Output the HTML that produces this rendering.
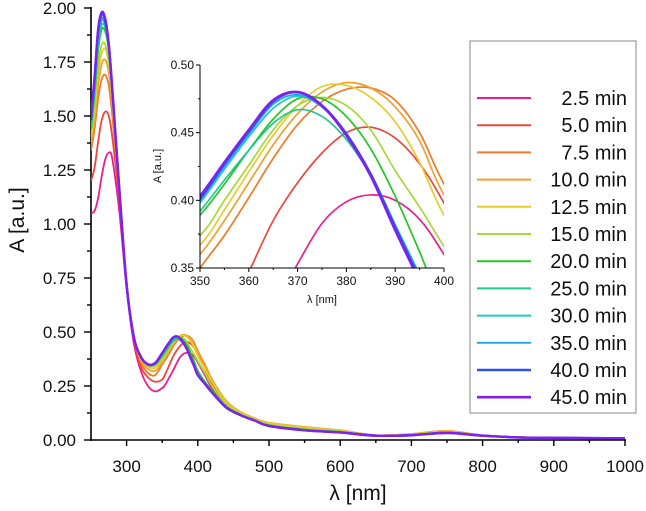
<!DOCTYPE html>
<html><head><meta charset="utf-8"><style>
html,body{margin:0;padding:0;background:#fff;overflow:hidden;width:646px;height:511px;}
svg{display:block;font-family:"Liberation Sans",sans-serif;}
</style></head><body>
<svg id="chart" width="646" height="511" viewBox="0 0 646 511" xmlns="http://www.w3.org/2000/svg">
<defs>
<clipPath id="mainClip"><rect x="91" y="0" width="535" height="441"/></clipPath>
<clipPath id="insetClip"><rect x="200" y="65" width="244" height="203"/></clipPath>
</defs>
<g id="main-axes"></g>
<g id="main-series" clip-path="url(#mainClip)"></g>
<g id="inset-series" clip-path="url(#insetClip)"></g>
<g id="inset-axes"></g>
<g id="legend"></g>
</svg>
<script>
const wavelengths = [250,255,260,265,270,275,280,290,300,310,320,330,340,350,355,360,365,370,375,380,385,390,395,400,410,420,440,460,480,500,550,600,650,700,750,800,850,900,1000];
const seriesLabels = ["2.5 min","5.0 min","7.5 min","10.0 min","12.5 min","15.0 min","20.0 min","25.0 min","30.0 min","35.0 min","40.0 min","45.0 min"];
const seriesColors = ["#ee1c8c","#f0443c","#f07a28","#f0a030","#e6cc2c","#a8d838","#22c822","#20c890","#20c8c8","#20a8f0","#3050f0","#8020f0"];
const s2_5 = [1.05,1.06,1.12,1.22,1.30,1.33,1.30,1.05,0.70,0.45,0.32,0.25,0.225,0.24,0.26,0.29,0.32,0.353,0.383,0.399,0.404,0.400,0.386,0.360,0.30,0.24,0.16,0.12,0.095,0.075,0.055,0.04,0.02,0.025,0.035,0.02,0.012,0.01,0.008];
const s5_0 = [1.20,1.26,1.38,1.48,1.52,1.50,1.40,1.10,0.72,0.47,0.34,0.29,0.27,0.28,0.31,0.347,0.385,0.413,0.435,0.450,0.454,0.446,0.427,0.398,0.33,0.26,0.17,0.125,0.098,0.078,0.058,0.043,0.022,0.027,0.038,0.022,0.013,0.011,0.009];
const s7_5 = [1.34,1.44,1.58,1.67,1.69,1.64,1.50,1.12,0.72,0.48,0.36,0.31,0.30,0.350,0.374,0.402,0.431,0.456,0.473,0.482,0.483,0.474,0.450,0.412,0.35,0.28,0.18,0.13,0.10,0.08,0.06,0.045,0.022,0.028,0.042,0.022,0.013,0.011,0.009];
const s10_0 = [1.37,1.48,1.64,1.74,1.76,1.70,1.55,1.14,0.72,0.48,0.37,0.33,0.32,0.360,0.385,0.413,0.441,0.464,0.480,0.487,0.483,0.469,0.444,0.404,0.35,0.28,0.18,0.13,0.10,0.08,0.06,0.045,0.022,0.028,0.042,0.022,0.013,0.011,0.009];
const s12_5 = [1.40,1.52,1.69,1.79,1.81,1.74,1.58,1.15,0.72,0.48,0.38,0.34,0.335,0.367,0.393,0.421,0.448,0.470,0.484,0.485,0.476,0.458,0.428,0.389,0.33,0.27,0.175,0.128,0.098,0.078,0.058,0.043,0.021,0.027,0.04,0.021,0.013,0.011,0.009];
const s15_0 = [1.42,1.55,1.73,1.83,1.83,1.75,1.58,1.15,0.72,0.48,0.38,0.345,0.345,0.374,0.400,0.426,0.452,0.470,0.476,0.470,0.452,0.422,0.395,0.366,0.31,0.25,0.165,0.122,0.094,0.072,0.052,0.04,0.021,0.025,0.037,0.021,0.012,0.01,0.008];
const s20_0 = [1.44,1.60,1.80,1.90,1.89,1.80,1.60,1.15,0.72,0.48,0.385,0.35,0.35,0.389,0.412,0.437,0.460,0.475,0.475,0.462,0.438,0.403,0.362,0.320,0.27,0.23,0.155,0.118,0.091,0.068,0.048,0.037,0.02,0.023,0.035,0.02,0.012,0.01,0.008];
const s25_0 = [1.45,1.62,1.83,1.92,1.91,1.81,1.61,1.15,0.72,0.48,0.385,0.35,0.35,0.392,0.415,0.437,0.457,0.467,0.462,0.445,0.418,0.382,0.345,0.305,0.26,0.22,0.15,0.115,0.09,0.066,0.046,0.036,0.02,0.022,0.033,0.02,0.012,0.01,0.008];
const s30_0 = [1.46,1.63,1.85,1.94,1.92,1.82,1.61,1.15,0.72,0.48,0.385,0.35,0.352,0.398,0.423,0.447,0.468,0.477,0.469,0.449,0.420,0.382,0.344,0.304,0.26,0.22,0.15,0.115,0.09,0.066,0.046,0.036,0.02,0.022,0.033,0.02,0.012,0.01,0.008];
const s35_0 = [1.47,1.65,1.87,1.95,1.93,1.82,1.61,1.15,0.72,0.48,0.385,0.35,0.353,0.400,0.425,0.449,0.471,0.478,0.469,0.449,0.419,0.381,0.343,0.303,0.26,0.22,0.15,0.115,0.09,0.065,0.045,0.035,0.02,0.022,0.033,0.02,0.012,0.01,0.008];
const s40_0 = [1.48,1.67,1.89,1.97,1.94,1.83,1.62,1.15,0.72,0.48,0.385,0.35,0.355,0.401,0.427,0.451,0.473,0.480,0.470,0.449,0.419,0.380,0.342,0.302,0.26,0.22,0.15,0.115,0.09,0.065,0.045,0.035,0.02,0.022,0.033,0.02,0.012,0.01,0.008];
const s45_0 = [1.50,1.68,1.90,1.98,1.95,1.83,1.62,1.15,0.72,0.48,0.385,0.35,0.356,0.403,0.428,0.452,0.474,0.480,0.470,0.448,0.418,0.378,0.340,0.300,0.26,0.22,0.15,0.115,0.09,0.065,0.045,0.035,0.02,0.022,0.033,0.02,0.012,0.01,0.008];
const allSeries = [s2_5,s5_0,s7_5,s10_0,s12_5,s15_0,s20_0,s25_0,s30_0,s35_0,s40_0,s45_0];
const mainXTicks = [300,400,500,600,700,800,900,1000];
const mainYTicks = [0,0.25,0.5,0.75,1,1.25,1.5,1.75,2];
const insetXTicks = [350,360,370,380,390,400];
const insetYTicks = [0.35,0.40,0.45,0.50];

const NS="http://www.w3.org/2000/svg";
function mk(tag, attrs, parent){const e=document.createElementNS(NS,tag);for(const k in attrs)e.setAttribute(k,attrs[k]);parent.appendChild(e);return e;}
function makeAxis(d0,d1,r0,r1){return v=>r0+(v-d0)/(d1-d0)*(r1-r0);}
const mx=makeAxis(250,1000,91,625), my=makeAxis(0,2,440,8);
const ix=makeAxis(350,400,200,444), iy=makeAxis(0.35,0.50,268,65);
function smoothPath(xs,ys,fx,fy){
  const p=xs.map((x,i)=>[fx(x),fy(ys[i])]);
  let d="M"+p[0][0].toFixed(2)+","+p[0][1].toFixed(2);
  for(let i=0;i<p.length-1;i++){
    const p0=p[Math.max(0,i-1)],p1=p[i],p2=p[i+1],p3=p[Math.min(p.length-1,i+2)];
    const c1=[p1[0]+(p2[0]-p0[0])/6,p1[1]+(p2[1]-p0[1])/6];
    const c2=[p2[0]-(p3[0]-p1[0])/6,p2[1]-(p3[1]-p1[1])/6];
    d+=" C"+c1[0].toFixed(2)+","+c1[1].toFixed(2)+" "+c2[0].toFixed(2)+","+c2[1].toFixed(2)+" "+p2[0].toFixed(2)+","+p2[1].toFixed(2);
  }
  return d;
}
const axes=document.getElementById('main-axes');
const ms=document.getElementById('main-series');
const is=document.getElementById('inset-series');
const ia=document.getElementById('inset-axes');
const lg=document.getElementById('legend');

let el=mk('line',{x1:91,y1:440,x2:626,y2:440,stroke:'#000','stroke-width':1.6},axes);


el=mk('line',{x1:91,y1:7,x2:91,y2:441,stroke:'#000','stroke-width':1.6},axes);


for(let v=300;v<=1000;v+=50){
  const major=(v%100===0);
  mk('line',{x1:mx(v),y1:440,x2:mx(v),y2:major?446:443,stroke:'#000','stroke-width':1.4},axes);
}
mainXTicks.forEach(v=>{
  const t=mk('text',{x:mx(v),y:472,'font-size':17,'text-anchor':'middle',fill:'#111'},axes);
  t.textContent=v;
  
  
});
for(let v=0;v<=2.0001;v+=0.125){
  const major=Math.abs(v/0.25-Math.round(v/0.25))<1e-6;
  mk('line',{x1:91,y1:my(v),x2:major?84:87,y2:my(v),stroke:'#000','stroke-width':1.4},axes);
}
mainYTicks.forEach(v=>{
  const t=mk('text',{x:76,y:my(v)+6,'font-size':17,'text-anchor':'end',fill:'#111'},axes);
  t.textContent=v.toFixed(2);
  
  
});
el=mk('text',{x:358,y:500,'font-size':21,'text-anchor':'middle',fill:'#111'},axes);
el.textContent='λ [nm]';


el=mk('text',{x:0,y:0,'font-size':21,'text-anchor':'middle',fill:'#111',transform:'translate(24,220) rotate(-90)'},axes);
el.textContent='A [a.u.]';



allSeries.forEach((s,i)=>{
  const w=(i>=10)?2.4:1.8;
  let p=mk('path',{d:smoothPath(wavelengths,s,mx,my),fill:'none',stroke:seriesColors[i],'stroke-width':w},ms);
  
  
  p=mk('path',{d:smoothPath(wavelengths,s,ix,iy),fill:'none',stroke:seriesColors[i],'stroke-width':(i>=10)?2.6:1.7},is);
  
  
});

el=mk('line',{x1:200,y1:268,x2:444,y2:268,stroke:'#000','stroke-width':1},ia);


el=mk('line',{x1:200,y1:65,x2:200,y2:268,stroke:'#000','stroke-width':1},ia);


for(let v=350;v<=400;v+=5){mk('line',{x1:ix(v),y1:268,x2:ix(v),y2:(v%10===0)?272:270,stroke:'#000','stroke-width':1},ia);}
for(let k=0;k<=6;k++){const v=0.35+k*0.025;mk('line',{x1:200,y1:iy(v),x2:(k%2===0)?196:198,y2:iy(v),stroke:'#000','stroke-width':1},ia);}
insetXTicks.forEach(v=>{
  const t=mk('text',{x:ix(v),y:285,'font-size':12,'text-anchor':'middle',fill:'#111'},ia);
  t.textContent=v;
  
  
});
insetYTicks.forEach(v=>{
  const t=mk('text',{x:194,y:iy(v)+4,'font-size':12,'text-anchor':'end',fill:'#111'},ia);
  t.textContent=v.toFixed(2);
  
  
});
el=mk('text',{x:322,y:303,'font-size':11,'text-anchor':'middle',fill:'#111'},ia);
el.textContent='λ [nm]';


el=mk('text',{x:0,y:0,'font-size':11,'text-anchor':'middle',fill:'#111',transform:'translate(161,166) rotate(-90)'},ia);
el.textContent='A [a.u.]';



el=mk('rect',{x:470,y:41,width:166,height:372,fill:'#fff',stroke:'#888','stroke-width':1},lg);


seriesLabels.forEach((lab,i)=>{
  const y=98+i*27.2;
  const g=mk('g',{},lg);
  
  
  mk('line',{x1:477,y1:y,x2:531,y2:y,stroke:seriesColors[i],'stroke-width':(i>=10)?2.6:2},g);
  const t=mk('text',{x:627,y:y+7,'font-size':20,'text-anchor':'end',fill:'#111'},g);
  t.textContent=lab;
});
</script>
</body></html>
